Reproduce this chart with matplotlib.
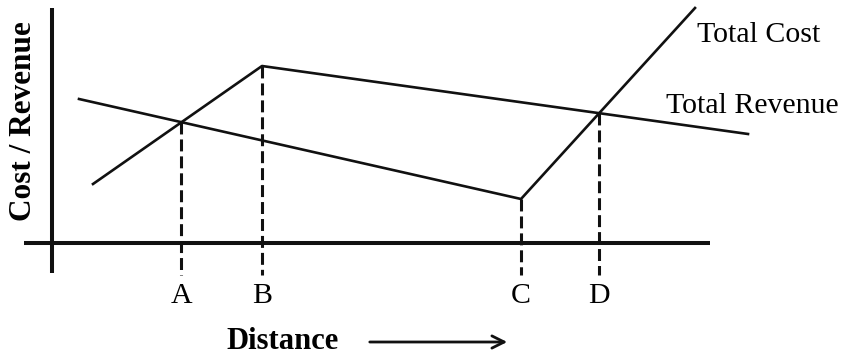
#!/usr/bin/env python3
import numpy as np
import matplotlib
matplotlib.use("Agg")
import matplotlib.pyplot as plt

# schematic values (distance along x, cost/revenue on y)
cost_x = [27, 469, 643]
cost_y = [144, 44, 235]
revenue_x = [41, 210, 696]
revenue_y = [59, 177, 109]

# guide lines: label, distance, which curve the dashed line rises to
guide_labels = ["A", "B", "C", "D"]
guide_x = [129.5, 210, 469, 547]
guide_curve = ["cost", "revenue", "cost", "cost"]

plt.rcParams["font.family"] = ["Liberation Serif", "DejaVu Serif"]
plt.rcParams["lines.scale_dashes"] = False

fig = plt.figure(figsize=(8.53, 3.56), dpi=100)
ax = fig.add_axes([0, 0, 1, 1])
ax.set_xlim(-52, 801)
ax.set_ylim(-113, 243)
ax.axis("off")

# axes drawn by hand, like the original sketch
ax.plot([0, 0], [-30, 235], color="#111", lw=2.9, solid_capstyle="butt")
ax.plot([-28, 658], [0, 0], color="#111", lw=2.9, solid_capstyle="butt")

ax.plot(cost_x, cost_y, color="#111", lw=1.9)
ax.plot(revenue_x, revenue_y, color="#111", lw=1.9)

for lab, gx, which in zip(guide_labels, guide_x, guide_curve):
    if which == "cost":
        top = np.interp(gx, cost_x, cost_y)
    else:
        top = np.interp(gx, revenue_x, revenue_y)
    ax.plot([gx, gx], [top, -32], color="#111", lw=2.2,
            linestyle=(0, (8.6, 3.6)), dash_capstyle="butt")
    ax.text(gx, -60, lab, ha="center", va="baseline", fontsize=21.5)

ax.text(645, 201, "Total Cost", ha="left", va="baseline", fontsize=21.5)
ax.text(614, 130, "Total Revenue", ha="left", va="baseline", fontsize=21.5)

ax.text(-28, 122, "Cost / Revenue", rotation=90, ha="center", va="center",
        fontsize=22.5, fontweight="bold")
ax.text(231, -106, "Distance", ha="center", va="baseline",
        fontsize=22, fontweight="bold")
ax.annotate("", xy=(458, -99), xytext=(315, -99),
            arrowprops=dict(arrowstyle="->", color="#111", lw=2,
                            mutation_scale=22))

fig.savefig("out.png", dpi=100, facecolor="white")
